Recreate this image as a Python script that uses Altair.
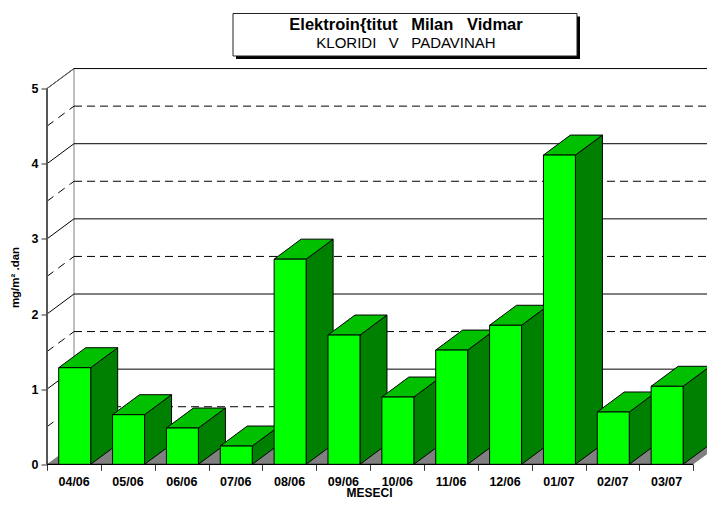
import altair as alt
import pandas as pd

categories = ["04/06", "05/06", "06/06", "07/06", "08/06", "09/06",
              "10/06", "11/06", "12/06", "01/07", "02/07", "03/07"]
values = [1.285, 0.66, 0.483, 0.243, 2.73, 1.72, 0.895, 1.52, 1.85, 4.115, 0.696, 1.038]
y_ticks = [0, 1, 2, 3, 4, 5]
half_lines = [0.5, 1.5, 2.5, 3.5, 4.5]

FONT = "Liberation Sans"
STEP = 53.86
UNIT = 75.15
DX = 27 / STEP      # depth offset in category units
DY = 20 / UNIT      # depth offset in value units
BAR_L, BAR_R = 0.217, 0.811
W = 660
XMAX = W / STEP
YMAX = 5.4
H = YMAX * UNIT
LAST = len(categories)

xs = alt.Scale(domain=[0, XMAX], range=[0, W], nice=False, zero=False)
ys = alt.Scale(domain=[0, YMAX], range=[H, 0], nice=False, zero=False)

label_expr = "[" + ",".join(f"'{c}'" for c in categories) + ",''][datum.value]"
x_axis = alt.Axis(values=list(range(LAST + 1)), labelExpr=label_expr, labelOffset=STEP / 2 - 0.3,
                  domain=False, grid=False, tickSize=6, tickColor="#333333",
                  labelFont=FONT, labelFontSize=12.5, labelFontWeight="bold", labelColor="#000000",
                  labelPadding=5, labelFlush=False, labelOverlap=False,
                  title="MESECI", titleFont=FONT, titleFontSize=12, titleFontWeight="bold",
                  titleColor="#000000", titleX=322, titleY=23.5, titleAnchor="middle")
y_axis = alt.Axis(values=y_ticks, domain=False, grid=False, tickSize=6, tickColor="#333333",
                  labelFont=FONT, labelFontSize=12.5, labelFontWeight="bold", labelColor="#000000",
                  labelPadding=3,
                  title="mg/m² .dan", titleFont=FONT, titleFontSize=11.5, titleFontWeight="bold",
                  titleColor="#000000", titleX=-27, titleY=218.5)


def X(f="x"):
    return alt.X(f"{f}:Q", scale=xs, axis=x_axis)


def Y(f="y"):
    return alt.Y(f"{f}:Q", scale=ys, axis=y_axis)


front, side, top = [], [], []
for i, (c, v) in enumerate(zip(categories, values)):
    xl, xr = i + BAR_L, i + BAR_R
    front.append(dict(c=i, x=xl, x2=xr, y=0, y2=v))
    side += [dict(c=i, x=xr, y=0, y2=v), dict(c=i, x=xr + DX, y=DY, y2=v + DY)]
    top += [dict(c=i, y=v, x=xl, x2=xr), dict(c=i, y=v + DY, x=xl + DX, x2=xr + DX)]

floor = pd.DataFrame([dict(y=0, x=0, x2=LAST), dict(y=DY, x=DX, x2=LAST + DX)])

# back-wall horizontals and left-wall diagonals
solid_h = pd.DataFrame([dict(y=t + DY, x=DX, x2=LAST + DX) for t in y_ticks[1:]])
dash_h = pd.DataFrame([dict(y=t + DY, x=DX, x2=LAST + DX) for t in half_lines])
solid_d = pd.DataFrame([r for t in y_ticks[1:] for r in (dict(t=t, x=0, y=t), dict(t=t, x=DX, y=t + DY))])
dash_d = pd.DataFrame([r for t in half_lines for r in (dict(t=t, x=0, y=t), dict(t=t, x=DX, y=t + DY))])

floor_l = alt.Chart(floor).mark_area(color="#808080", orient="horizontal", clip=True).encode(
    y=Y(), x=X(), x2="x2:Q")
wall = alt.Chart(pd.DataFrame([dict(x=DX, y=DY, y2=5 + DY)])).mark_rule(color="#808080", strokeWidth=1).encode(
    x=X(), y=Y(), y2="y2:Q")
h_solid = alt.Chart(solid_h).mark_rule(color="#000000", strokeWidth=1, clip=True).encode(
    y=Y(), x=X(), x2="x2:Q")
h_dash = alt.Chart(dash_h).mark_rule(color="#000000", strokeWidth=1, strokeDash=[8, 5], clip=True).encode(
    y=Y(), x=X(), x2="x2:Q")
d_solid = alt.Chart(solid_d).mark_line(color="#000000", strokeWidth=1).encode(
    x=X(), y=Y(), detail="t:N")
d_dash = alt.Chart(dash_d).mark_line(color="#000000", strokeWidth=1, strokeDash=[8, 6]).encode(
    x=X(), y=Y(), detail="t:N")

sides = alt.Chart(pd.DataFrame(side)).mark_area(
    color="#008000", stroke="#000000", strokeWidth=1, orient="vertical"
).encode(x=X(), y=Y(), y2="y2:Q", detail="c:O")
tops = alt.Chart(pd.DataFrame(top)).mark_area(
    color="#00C000", stroke="#000000", strokeWidth=1, orient="horizontal"
).encode(y=Y(), x=X(), x2="x2:Q", detail="c:O")
fronts = alt.Chart(pd.DataFrame(front)).mark_rect(
    color="#00FF00", stroke="#000000", strokeWidth=1
).encode(x=X(), x2="x2:Q", y=Y(), y2="y2:Q")

y_line = alt.Chart(pd.DataFrame([dict(x=0, y=0, y2=5)])).mark_rule(color="#555555", strokeWidth=2).encode(
    x=X(), y=Y(), y2="y2:Q")
x_line = alt.Chart(pd.DataFrame([dict(y=0, x=0, x2=LAST)])).mark_rule(color="#000000", strokeWidth=1.2).encode(
    y=Y(), x=X(), x2="x2:Q")
top_edge = alt.Chart(pd.DataFrame([dict(k=1, x=0, y=5), dict(k=1, x=DX, y=5 + DY)])).mark_line(
    color="#666666", strokeWidth=1).encode(x=X(), y=Y(), detail="k:N")

one = pd.DataFrame(dict(a=[1]))
shadow = alt.Chart(one).mark_rect(color="#000000").encode(
    x=alt.value(189), x2=alt.value(533), y=alt.value(-42), y2=alt.value(0.5))
box = alt.Chart(one).mark_rect(fill="#ffffff", stroke="#222222", strokeWidth=1).encode(
    x=alt.value(186), x2=alt.value(530), y=alt.value(-45), y2=alt.value(-2.5))
title1 = alt.Chart(pd.DataFrame(dict(t=["Elektroin{titut\u00a0 \u00a0Milan\u00a0 \u00a0Vidmar"]))).mark_text(
    font=FONT, fontSize=16.5, fontWeight="bold", color="#000000", align="center", baseline="middle"
).encode(text="t:N", x=alt.value(359), y=alt.value(-33.5))
title2 = alt.Chart(pd.DataFrame(dict(t=["KLORIDI\u00a0 \u00a0V\u00a0 \u00a0PADAVINAH"]))).mark_text(
    font=FONT, fontSize=15, color="#000000", align="center", baseline="middle"
).encode(text="t:N", x=alt.value(359), y=alt.value(-15.8))

chart = alt.layer(
    floor_l, wall, h_solid, h_dash, d_solid, d_dash, top_edge, y_line, x_line,
    sides, tops, fronts, shadow, box, title1, title2
).properties(
    width=W, height=H,
    autosize=alt.AutoSizeParams(type="none"),
    padding=dict(left=39, top=50.5, right=0, bottom=36.5),
    background="#ffffff",
).configure_view(stroke=None)

chart.save("out.html", embed_options={"renderer": "svg", "actions": False})
